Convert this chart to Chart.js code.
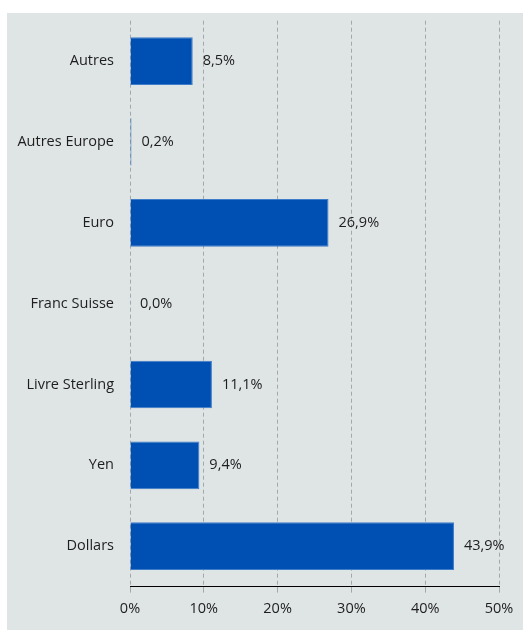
<!DOCTYPE html>
<html>
<head>
<meta charset="utf-8">
<script src="https://cdn.jsdelivr.net/npm/chart.js@4.4.1/dist/chart.umd.min.js"></script>
<style>
    html, body { margin: 0; padding: 0; background: #ffffff; }
    #wrap {
        position: absolute;
        left: 7px;
        top: 13px;
        width: 516px;
        height: 617px;
        background: #dfe4e4;
        overflow: hidden;
    }
    #chart { position: absolute; left: 0; top: -9px; }
</style>
</head>
<body>
<div id="wrap"><canvas id="chart" width="516" height="626"></canvas></div>
<script>
const categories = ["Autres", "Autres Europe", "Euro", "Franc Suisse", "Livre Sterling", "Yen", "Dollars"];
const shares = [8.5, 0.2, 26.9, 0.0, 11.1, 9.4, 43.9];
const xTicks = [0, 10, 20, 30, 40, 50];

const fmt = v => v.toFixed(1).replace(".", ",") + "%";

/* ---- value labels at the end of each bar ---- */
const barLabels = {
    id: "barLabels",
    afterDatasetsDraw(chart) {
        const ctx = chart.ctx;
        const meta = chart.getDatasetMeta(0);
        ctx.save();
        ctx.font = "14.5px 'Open Sans'";
        ctx.fillStyle = "#1e1e1e";
        ctx.textBaseline = "middle";
        ctx.textAlign = "left";
        meta.data.forEach((bar, i) => {
            ctx.fillText(fmt(shares[i]), bar.x + 10, bar.y);
        });
        ctx.restore();
    }
};

const ctx = document.getElementById("chart").getContext("2d");
new Chart(ctx, {
    type: "bar",
    data: {
        labels: categories,
        datasets: [{
            data: shares,
            backgroundColor: "#0050b4",
            borderColor: "#3d7cc8",
            borderWidth: 1,
            barPercentage: 0.59,
            categoryPercentage: 1.0
        }]
    },
    options: {
        indexAxis: "y",
        responsive: false,
        animation: false,
        layout: { padding: { top: -9, right: 24, left: 0, bottom: 4 } },
        plugins: {
            legend: { display: false },
            tooltip: { enabled: false }
        },
        scales: {
            x: {
                min: 0,
                max: 50,
                afterBuildTicks: s => { s.ticks = xTicks.map(v => ({ value: v })); },
                ticks: {
                    callback: v => v + "%",
                    color: "#1e1e1e",
                    font: { family: "'Open Sans'", size: 14.5 },
                    padding: 8
                },
                grid: {
                    color: "#a3a8aa",
                    lineWidth: 1,
                    tickLength: 6,
                    drawTicks: true
                },
                border: { display: true, color: "#000000", width: 1, dash: [4, 3] }
            },
            y: {
                afterFit: s => { s.width = 123; },
                ticks: {
                    color: "#1e1e1e",
                    font: { family: "'Open Sans'", size: 14.5 },
                    padding: 8
                },
                grid: { display: false },
                border: { display: false }
            }
        }
    },
    plugins: [barLabels]
});
</script>
</body>
</html>
